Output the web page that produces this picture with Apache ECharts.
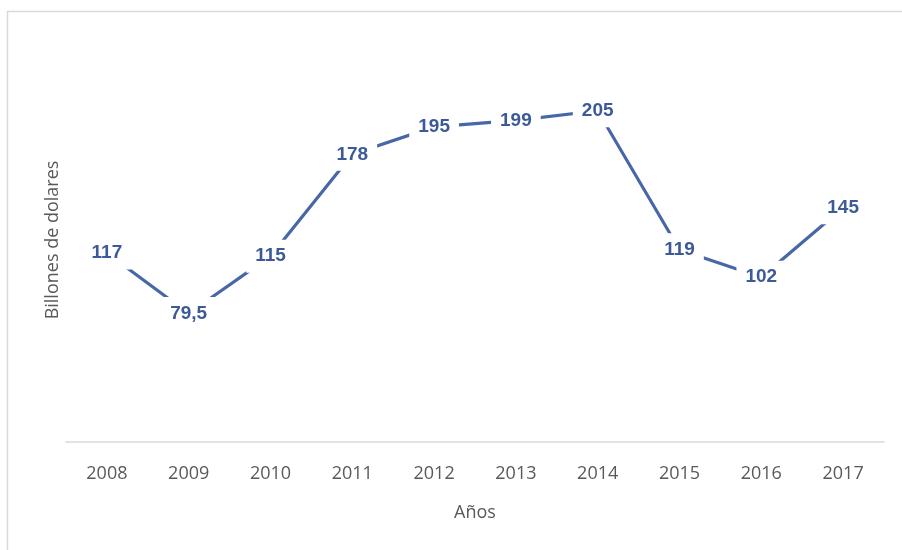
<!DOCTYPE html>
<html>
<head>
<meta charset="utf-8">
<script src="https://cdn.jsdelivr.net/npm/echarts@6/dist/echarts.min.js"></script>
<style>
html,body{margin:0;padding:0;background:#fff;}
#chart{width:902px;height:550px;}
</style>
</head>
<body>
<div id="chart"></div>
<script>
const years = ['2008','2009','2010','2011','2012','2013','2014','2015','2016','2017'];
const values = [117, 79.5, 115, 178, 195, 199, 205, 119, 102, 145];
const xAxisTitle = 'Años';
const yAxisTitle = 'Billones de dolares';

const chart = echarts.init(document.getElementById('chart'));
chart.setOption({
  backgroundColor: '#ffffff',
  animation: false,
  graphic: [{
    type: 'rect',
    shape: {x: 7.5, y: 11.5, width: 1200, height: 1200},
    style: {fill: 'none', stroke: '#d9d9d9', lineWidth: 1.5},
    silent: true, z: -10
  }],
  grid: {left: 66, right: 18, top: 38, bottom: 108},
  xAxis: {
    type: 'category',
    data: years,
    boundaryGap: true,
    name: xAxisTitle,
    nameLocation: 'middle',
    nameGap: 62,
    nameTextStyle: {color: '#595959', fontSize: 18, fontFamily: 'Open Sans'},
    axisLine: {lineStyle: {color: '#d9d9d9', width: 1.5}},
    axisTick: {show: false},
    axisLabel: {color: '#595959', fontSize: 18, fontFamily: 'Open Sans', margin: 23}
  },
  yAxis: {
    type: 'value',
    min: 0, max: 250,
    name: yAxisTitle,
    nameLocation: 'middle',
    nameGap: 4,
    nameTextStyle: {color: '#595959', fontSize: 18, fontFamily: 'Open Sans'},
    axisLine: {show: false},
    axisTick: {show: false},
    axisLabel: {show: false},
    splitLine: {show: false}
  },
  series: [{
    type: 'line',
    data: values,
    symbol: 'circle',
    symbolSize: 2,
    itemStyle: {color: '#4867A8'},
    lineStyle: {color: '#4867A8', width: 3.2},
    label: {
      show: true,
      position: 'inside',
      color: '#3D5A98',
      fontWeight: 'bold',
      fontSize: 19,
      fontFamily: 'Liberation Sans',
      backgroundColor: '#ffffff',
      padding: [7, 9],
      formatter: p => String(p.value).replace('.', ',')
    }
  }]
});
</script>
</body>
</html>
